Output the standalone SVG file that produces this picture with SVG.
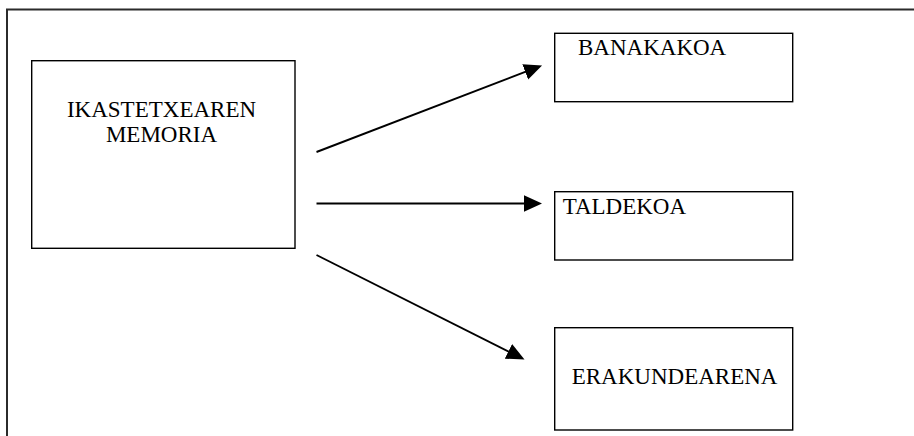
<svg xmlns="http://www.w3.org/2000/svg" width="914" height="436" viewBox="0 0 914 436">
  <style>
    .box { fill: #ffffff; stroke: #000000; stroke-width: 1.4; }
    .label { font-family: "Liberation Serif", "Times New Roman", serif; font-size: 23px; fill: #000000; }
    .frame { fill: none; stroke: #2b2b2b; stroke-width: 2; }
    .edge { fill: none; stroke: #000000; stroke-width: 1.9; marker-end: url(#head); }
  </style>
  <defs>
    <marker id="head" markerUnits="userSpaceOnUse" markerWidth="19" markerHeight="17" refX="2" refY="8.2" orient="auto">
      <path d="M0,0 L18,8.2 L0,16.4 z" fill="#000000"/>
    </marker>
  </defs>

  <rect width="914" height="436" fill="#ffffff"/>

  <!-- page frame: top and left edges only -->
  <path class="frame" d="M7,436 L7,9.5 L914,9.5"/>

  <g id="memoria">
    <rect class="box" x="31.7" y="60.7" width="263.3" height="187.6"/>
    <text class="label" x="161.5" y="116.7" text-anchor="middle">IKASTETXEAREN</text>
    <text class="label" x="161.5" y="141.7" text-anchor="middle">MEMORIA</text>
  </g>

  <g id="banakakoa">
    <rect class="box" x="554.7" y="33.3" width="238" height="68.4"/>
    <text class="label" x="578" y="55">BANAKAKOA</text>
  </g>

  <g id="taldekoa">
    <rect class="box" x="554.7" y="191.7" width="238" height="68.3"/>
    <text class="label" x="562.7" y="214">TALDEKOA</text>
  </g>

  <g id="erakundearena">
    <rect class="box" x="554.7" y="327.7" width="238" height="102.3"/>
    <text class="label" x="571.7" y="384">ERAKUNDEARENA</text>
  </g>

  <g id="connectors">
    <line class="edge" x1="316.5" y1="152" x2="527.1" y2="71.2"/>
    <line class="edge" x1="316.5" y1="203.5" x2="526" y2="203.5"/>
    <line class="edge" x1="316.5" y1="255" x2="510.2" y2="352.3"/>
  </g>
</svg>
